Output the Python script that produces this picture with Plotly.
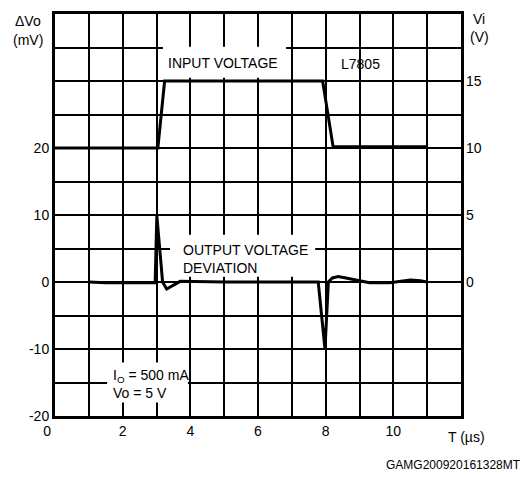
import plotly.graph_objects as go

# ---- data ----
vin_t = [0.0, 3.04, 3.24, 7.91, 8.22, 11.0]
vin_v = [10.0, 10.0, 15.0, 15.0, 10.1, 10.1]

dvo_t = [1.0, 1.5, 2.5, 2.96, 3.01, 3.06, 3.18, 3.30, 3.45, 3.7, 5.0, 7.0, 7.78,
         7.98, 8.08, 8.2, 8.37, 8.6, 8.9, 9.3, 9.9, 10.2, 10.5, 10.8, 11.0]
dvo_v = [0.0, -0.1, -0.1, -0.1, 9.9, 7.0, 0.0, -1.05, -0.6, 0.1, 0.0, 0.0, 0.0,
         -10.0, 0.0, 0.6, 0.8, 0.6, 0.3, -0.1, -0.1, 0.1, 0.3, 0.2, 0.0]

x_ticks = list(range(0, 13))
x_labels = [str(v) if (v % 2 == 0 and v <= 10) else " " for v in x_ticks]
x_labels[0] = "0\u00a0\u00a0\u00a0\u00a0"
y_ticks = list(range(-20, 45, 5))
y_labels = [str(v) if (v % 10 == 0 and v <= 20) else " " for v in y_ticks]
y2_ticks = [0, 5, 10, 15]
y2_labels = ["0", "5", "10", "15"]

FONT = "Liberation Sans, Arial, sans-serif"
OFF = 8  # default page body margin
L, R, T, B = 55, 67, 14, 60.5
W, H = 528, 477
PW, PH = W - L - R, H - T - B


def px(x):
    return (x - L) / PW


def py(y):
    return (H - B - y) / PH


fig = go.Figure()
fig.add_trace(go.Scatter(x=vin_t, y=vin_v, yaxis="y2", mode="lines",
                         line=dict(color="black", width=3), showlegend=False))
fig.add_trace(go.Scatter(x=dvo_t, y=dvo_v, mode="lines",
                         line=dict(color="black", width=3), showlegend=False))

# white label boxes (above grid, below traces)
boxes = [(3.19, 6.83, 30.5, 35.1), (3.40, 7.69, 0.8, 7.06), (1.54, 3.93, -18.0, -12.0)]
for x0, x1, y0, y1 in boxes:
    fig.add_shape(type="rect", x0=x0, x1=x1, y0=y0, y1=y1, xref="x", yref="y",
                  fillcolor="white", line=dict(width=0), layer="between")

ann = []
ann.append(dict(x=4.97, y=32.7, xref="x", yref="y", text="INPUT VOLTAGE"))
ann.append(dict(x=9.02, y=32.6, xref="x", yref="y", text="L7805"))
ann.append(dict(x=3.72, y=3.5, xref="x", yref="y", xanchor="left", align="left",
                text="OUTPUT VOLTAGE<br>DEVIATION"))
ann.append(dict(x=1.66, y=-15.2, xref="x", yref="y", xanchor="left", align="left",
                text="I<sub>O</sub> = 500 mA<br>Vo = 5 V"))
ann.append(dict(x=px(28), y=py(21), xref="paper", yref="paper", text="ΔVo"))
ann.append(dict(x=px(28), y=py(40), xref="paper", yref="paper", text="(mV)"))
ann.append(dict(x=px(479), y=py(19), xref="paper", yref="paper", text="Vi"))
ann.append(dict(x=px(479), y=py(37), xref="paper", yref="paper", text="(V)"))
ann.append(dict(x=px(466), y=py(438), xref="paper", yref="paper", text="T (µs)"))
ann.append(dict(x=px(453), y=py(466), xref="paper", yref="paper", text="GAMG200920161328MT",
                font=dict(size=12)))
for a in ann:
    a.setdefault("xanchor", "center")
    a.setdefault("yanchor", "middle")
    a.setdefault("font", dict(size=14))
    a["showarrow"] = False

fig.update_layout(
    width=W - OFF, height=H - OFF,
    margin=dict(l=L - OFF, r=R, t=T - OFF, b=B, autoexpand=False),
    paper_bgcolor="white", plot_bgcolor="white",
    font=dict(family=FONT, size=14, color="black"),
    annotations=ann,
    xaxis=dict(range=[0, 12], tickvals=x_ticks, ticktext=x_labels, automargin=False,
               showgrid=True, gridcolor="black", gridwidth=1.5,
               showline=True, linecolor="black", linewidth=3, mirror=True,
               ticks="", zeroline=False, tickfont=dict(size=14)),
    yaxis=dict(range=[-20, 40], tickvals=y_ticks, ticktext=y_labels, automargin=False,
               showgrid=True, gridcolor="black", gridwidth=1.5,
               showline=True, linecolor="black", linewidth=3, mirror=True,
               ticks="", zeroline=False, tickfont=dict(size=14)),
    yaxis2=dict(range=[-10, 20], overlaying="y", side="right", automargin=False,
                tickvals=y2_ticks, ticktext=y2_labels, showgrid=False,
                zeroline=False, ticks="", showline=False, tickfont=dict(size=14),
                ticklabelstandoff=4),
)

fig.write_html("out.html")
